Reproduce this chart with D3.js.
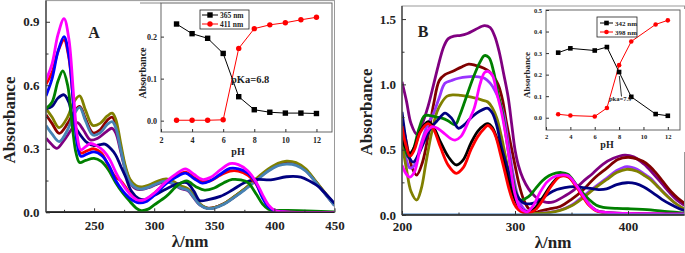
<!DOCTYPE html>
<html><head><meta charset="utf-8">
<script src="https://cdn.jsdelivr.net/npm/d3@7"></script>
<style>
body{margin:0;background:#fff}
svg{display:block}
text{font-family:"Liberation Serif","Times New Roman",serif;font-weight:bold;fill:#222}
</style>
</head><body><svg id="c" width="685" height="253"></svg>
<script>
// ---------- Panel A spectra [wavelength nm, absorbance] ----------
const aMagenta=[[210,.625],[215,.70],[220,.84],[225,.915],[229,.82],[233,.55],[236,.36],[239,.295],[243,.31],[247,.325],[252,.315],[258,.29],[263,.25],[268,.19],[274,.13],[280,.085],[286,.058],[292,.06],[300,.09],[310,.145],[318,.18],[326,.205],[333,.18],[340,.155],[347,.165],[355,.2],[363,.23],[370,.225],[378,.195],[384,.15],[390,.085],[395,.035],[400,.01],[410,.002],[450,0]];
const aRed=[[210,.605],[215,.66],[220,.76],[225,.815],[229,.73],[233,.5],[236,.34],[239,.28],[244,.29],[250,.30],[256,.28],[262,.22],[268,.165],[272,.15],[276,.12],[281,.08],[287,.055],[293,.06],[300,.09],[310,.14],[318,.17],[326,.19],[333,.165],[340,.145],[347,.15],[355,.175],[363,.195],[370,.195],[378,.175],[384,.14],[390,.075],[395,.03],[400,.008],[410,.001],[450,0]];
const aBlue=[[210,.55],[215,.63],[220,.76],[225,.83],[229,.74],[233,.5],[236,.32],[239,.265],[244,.275],[250,.285],[256,.27],[262,.225],[268,.15],[274,.1],[280,.065],[287,.045],[293,.05],[300,.08],[310,.135],[318,.165],[326,.185],[333,.16],[340,.138],[347,.15],[355,.18],[363,.207],[370,.205],[378,.185],[384,.145],[390,.07],[395,.025],[400,.008],[410,.001],[450,0]];
const aGreen=[[210,.49],[215,.52],[220,.62],[224,.668],[228,.6],[232,.4],[235,.28],[238,.235],[243,.245],[250,.255],[256,.24],[262,.2],[268,.14],[274,.09],[280,.05],[285,.02],[289,.008],[295,.015],[300,.035],[310,.075],[320,.13],[327,.148],[335,.12],[342,.105],[350,.115],[358,.14],[365,.155],[372,.153],[378,.14],[385,.085],[390,.04],[395,.015],[400,.01],[420,.008],[450,.002]];
const aNavy=[[210,.49],[215,.5],[220,.54],[225,.555],[229,.52],[233,.42],[238,.37],[244,.33],[250,.315],[255,.32],[259,.322],[264,.3],[268,.27],[272,.22],[276,.17],[281,.1],[287,.065],[292,.06],[300,.08],[310,.11],[320,.135],[327,.14],[333,.1],[338,.055],[345,.06],[355,.075],[365,.105],[375,.14],[385,.155],[397,.153],[410,.168],[422,.166],[430,.145],[437,.12],[443,.085],[450,.042]];
const aOlive=[[210,.49],[215,.45],[221,.40],[228,.45],[233,.52],[238,.55],[243,.48],[249,.41],[255,.42],[261,.455],[265,.468],[268,.44],[272,.33],[276,.22],[280,.155],[285,.125],[290,.12],[296,.13],[302,.145],[310,.158],[316,.145],[322,.125],[328,.112],[333,.08],[338,.04],[344,.02],[350,.022],[358,.04],[366,.072],[375,.11],[385,.16],[395,.205],[403,.232],[410,.242],[418,.235],[426,.205],[434,.15],[441,.1],[450,.035]];
const aMaroon=[[210,.46],[215,.42],[221,.373],[228,.42],[233,.47],[238,.50],[243,.44],[249,.375],[255,.39],[261,.435],[265,.449],[268,.42],[272,.31],[276,.21],[280,.15],[285,.12],[290,.115],[296,.125],[302,.14],[310,.153],[316,.14],[322,.12],[328,.108],[333,.075],[338,.038],[344,.02],[350,.022],[358,.04],[366,.07],[375,.108],[385,.155],[395,.2],[403,.226],[410,.236],[418,.23],[426,.2],[434,.148],[441,.098],[450,.035]];
const aSteel=[[210,.41],[215,.37],[221,.334],[228,.39],[233,.46],[238,.496],[243,.43],[249,.365],[255,.375],[261,.415],[265,.428],[268,.40],[272,.3],[276,.2],[280,.14],[285,.115],[290,.11],[296,.12],[302,.135],[310,.148],[316,.135],[322,.115],[328,.105],[333,.07],[338,.035],[344,.018],[350,.02],[358,.038],[366,.068],[375,.105],[385,.15],[395,.195],[403,.22],[410,.228],[418,.222],[426,.195],[434,.145],[441,.095],[450,.032]];
const aPurple=[[210,.35],[214,.325],[219,.302],[225,.34],[231,.39],[236,.424],[241,.39],[247,.342],[253,.35],[260,.38],[265,.397],[268,.375],[272,.29],[276,.2],[280,.14],[285,.11],[290,.108],[296,.118],[302,.132],[310,.145],[316,.133],[322,.113],[328,.102],[333,.068],[338,.035],[344,.02],[350,.022],[358,.04],[366,.07],[375,.108],[385,.153],[395,.198],[403,.224],[410,.232],[418,.226],[426,.198],[434,.146],[441,.096],[450,.033]];
const aBase=[[210,0],[450,0]];

// ---------- Panel B spectra ----------
const bPurple=[[200,1.02],[204,.87],[208,.70],[213,.62],[218,.70],[223,.83],[228,1.0],[232,1.14],[237,1.29],[241,1.35],[246,1.37],[252,1.375],[258,1.39],[265,1.42],[273,1.45],[278,1.435],[282,1.37],[286,1.25],[290,1.08],[294,.9],[297,.7],[300,.5],[303,.38],[307,.28],[312,.2],[318,.14],[326,.1],[334,.1],[342,.135],[352,.19],[360,.255],[369,.32],[378,.39],[387,.434],[397,.458],[405,.445],[414,.39],[422,.32],[430,.24],[437,.17],[444,.11],[450,.075]];
const bMaroon=[[200,.715],[204,.55],[209,.36],[213,.306],[218,.4],[223,.6],[228,.85],[233,1.03],[238,1.075],[245,1.10],[252,1.13],[259,1.155],[265,1.145],[272,1.125],[277,1.1],[281,1.06],[285,1.0],[289,.88],[292,.73],[296,.55],[300,.38],[304,.22],[308,.11],[312,.05],[318,.02],[322,.03],[330,.045],[340,.065],[350,.12],[360,.19],[370,.28],[381,.357],[391,.425],[400,.442],[408,.43],[416,.396],[424,.33],[431,.255],[438,.18],[444,.13],[450,.09]];
const bViolet=[[200,.63],[204,.42],[207,.36],[211,.38],[216,.52],[222,.68],[228,.78],[233,.9],[238,1.008],[244,1.03],[250,1.047],[258,1.058],[265,1.06],[273,1.047],[278,1.01],[282,.957],[286,.88],[290,.77],[294,.55],[298,.33],[302,.16],[306,.07],[310,.03],[315,.01],[322,.015],[330,.02],[340,.038],[350,.075],[360,.14],[370,.21],[381,.28],[390,.34],[399,.37],[408,.35],[415,.31],[420,.28],[427,.215],[434,.153],[442,.09],[450,.044]];
const bOlive=[[200,.55],[204,.35],[208,.18],[213,.115],[217,.2],[221,.39],[226,.62],[231,.79],[235,.86],[240,.91],[245,.92],[252,.915],[258,.908],[265,.895],[271,.88],[276,.865],[280,.82],[284,.74],[288,.6],[292,.43],[296,.26],[300,.12],[304,.05],[308,.02],[313,.012],[320,.012],[330,.018],[340,.035],[350,.07],[360,.13],[370,.2],[381,.27],[390,.325],[399,.35],[408,.335],[415,.3],[420,.27],[427,.21],[434,.15],[442,.09],[450,.045]];
const bGreen=[[200,.62],[203,.5],[206,.44],[210,.5],[215,.66],[220,.76],[225,.76],[230,.75],[236,.74],[241,.72],[247,.69],[251,.76],[256,.88],[263,1.05],[269,1.17],[273,1.22],[277,1.205],[281,1.1],[285,.93],[289,.78],[293,.55],[297,.33],[301,.17],[305,.115],[312,.14],[318,.2],[324,.26],[330,.3],[336,.32],[341,.325],[347,.31],[354,.235],[360,.17],[366,.115],[372,.075],[378,.059],[390,.05],[400,.048],[420,.04],[435,.025],[450,.015]];
const bNavy=[[200,.79],[203,.6],[206,.45],[210,.405],[215,.47],[220,.57],[225,.66],[232,.73],[238,.78],[244,.74],[250,.664],[255,.69],[260,.735],[266,.78],[271,.805],[276,.817],[280,.78],[284,.68],[288,.52],[292,.4],[296,.28],[300,.18],[304,.12],[308,.09],[313,.085],[318,.095],[324,.125],[330,.165],[337,.195],[344,.21],[352,.217],[360,.21],[367,.203],[374,.195],[381,.2],[390,.232],[399,.247],[407,.24],[414,.215],[422,.17],[430,.12],[438,.08],[445,.05],[450,.035]];
const bMagenta=[[200,.38],[204,.31],[207,.29],[211,.33],[216,.5],[222,.64],[227,.676],[232,.66],[238,.62],[243,.585],[247,.574],[252,.6],[258,.7],[264,.82],[269,1.0],[273,1.09],[276,1.1],[280,1.07],[284,.93],[288,.79],[292,.6],[296,.37],[300,.16],[304,.06],[308,.03],[311,.025],[316,.07],[322,.17],[328,.25],[334,.29],[340,.306],[347,.3],[354,.23],[360,.15],[366,.077],[372,.035],[380,.02],[390,.015],[400,.012],[420,.01],[450,.008]];
const bBlack=[[200,.6],[203,.52],[207,.472],[211,.52],[216,.64],[223,.714],[228,.67],[234,.56],[241,.446],[248,.383],[254,.42],[261,.55],[267,.64],[273,.69],[276,.7],[280,.67],[283,.61],[287,.5],[291,.37],[295,.24],[299,.14],[303,.07],[307,.035],[312,.025],[318,.055],[325,.14],[332,.23],[340,.3],[347,.295],[354,.228],[360,.15],[366,.077],[372,.035],[380,.02],[400,.012],[450,.007]];
const bRed=[[200,.68],[203,.55],[207,.45],[211,.5],[216,.63],[223,.70],[228,.655],[234,.52],[241,.38],[248,.319],[254,.36],[261,.5],[267,.6],[273,.665],[276,.685],[280,.655],[283,.6],[287,.47],[291,.33],[295,.19],[299,.09],[303,.04],[307,.02],[312,.015],[318,.04],[325,.12],[332,.22],[340,.295],[347,.29],[354,.22],[360,.14],[366,.07],[372,.03],[380,.015],[400,.008],[450,.005]];
const bBase=[[200,0],[450,0]];

// ---------- Insets ----------
const pHA=[3,4,5,6,7,8,9,10,11,12];
const abs365=[0.23,0.207,0.196,0.16,0.057,0.026,0.020,0.018,0.018,0.017];
const abs411=[0.001,0.001,0.001,0.002,0.172,0.219,0.228,0.233,0.240,0.246];
const pHB=[3,4,6,7,8,9,11,12];
const abs342=[0.302,0.322,0.312,0.328,0.212,0.097,0.017,0.009];
const abs398=[0.016,0.010,0.006,0.045,0.244,0.354,0.433,0.452];

// ticks
const aXTicks=[250,300,350,400,450], aXMinor=[225,275,325,375,425];
const aYTicks=[0,0.3,0.6,0.9], aYMinor=[0.15,0.45,0.75];
const bXTicks=[200,300,400], bXMinor=[250,350];
const bYTicks=[0,0.5,1.0,1.5], bYMinor=[0.25,0.75,1.25];
const inXTicks=[2,4,6,8,10,12];
const inAYTicks=[0,0.1,0.2];
const inBYTicks=[0,0.1,0.2,0.3,0.4,0.5];

const svg=d3.select("#c");
const defs=svg.append("defs");

function styleAxis(g,fs){
  g.select(".domain").remove();
  g.selectAll("line").attr("stroke","#333").attr("stroke-width",1);
  g.selectAll("text").attr("font-size",fs).attr("fill","#222")
   .attr("font-family","Liberation Serif, serif").attr("font-weight","bold");
}

function mainPanel(o){
  const g=svg.append("g");
  const [x0,x1]=o.x.range(), [y0,y1]=o.y.range();
  defs.append("clipPath").attr("id",o.id).append("rect")
    .attr("x",x0).attr("y",y1).attr("width",x1-x0).attr("height",y0-y1);
  const ln=d3.line().x(d=>o.x(d[0])).y(d=>o.y(d[1])).curve(d3.curveCatmullRom.alpha(0.5));
  const cg=g.append("g").attr("clip-path",`url(#${o.id})`);
  o.series.forEach(s=>{
    cg.append("path").datum(s.d).attr("d",ln).attr("fill","none")
      .attr("stroke",s.c).attr("stroke-width",s.w||2.8).attr("stroke-linejoin","round");
  });
  g.append("rect").attr("x",x0).attr("y",y1).attr("width",x1-x0).attr("height",y0-y1)
    .attr("fill","none").attr("stroke","#999").attr("stroke-width",1);
  g.append("line").attr("x1",x0).attr("x2",x0).attr("y1",y1).attr("y2",y0).attr("stroke","#444").attr("stroke-width",1.4);
  g.append("line").attr("x1",x0).attr("x2",x1).attr("y1",y0).attr("y2",y0).attr("stroke","#222").attr("stroke-width",1.6);
  const xa=g.append("g").attr("transform",`translate(0,${y0})`)
    .call(d3.axisBottom(o.x).tickValues(o.xt).tickSize(-4).tickPadding(o.xpad).tickFormat(d3.format("d")));
  styleAxis(xa,13);
  const xm=g.append("g").attr("transform",`translate(0,${y0})`)
    .call(d3.axisBottom(o.x).tickValues(o.xm).tickSize(-2.5).tickFormat(""));
  styleAxis(xm,0);
  const ya=g.append("g").attr("transform",`translate(${x0},0)`)
    .call(d3.axisLeft(o.y).tickValues(o.yt).tickSize(-4).tickPadding(o.ypad).tickFormat(d3.format(".1f")));
  styleAxis(ya,13);
  const ym=g.append("g").attr("transform",`translate(${x0},0)`)
    .call(d3.axisLeft(o.y).tickValues(o.ym).tickSize(-2.5).tickFormat(""));
  styleAxis(ym,0);
  g.append("text").attr("transform",`translate(${o.ylx},${o.yly}) rotate(-90)`)
    .attr("text-anchor","middle").attr("font-size",17).text("Absorbance");
  g.append("text").attr("x",o.xlx).attr("y",o.xly).attr("text-anchor","middle")
    .attr("font-size",17).text("λ/nm");
  g.append("text").attr("x",o.lx).attr("y",o.ly).attr("text-anchor","middle")
    .attr("font-size",16).text(o.label);
  return g;
}

function inset(o){
  const g=svg.append("g");
  const [x0,x1]=o.x.range(), [y0,y1]=o.y.range();
  g.append("rect").attr("x",o.bg[0]).attr("y",o.bg[1]).attr("width",o.bg[2]).attr("height",o.bg[3]).attr("fill","#fff");
  if(o.topLine) g.append("line").attr("x1",o.topLine[0]).attr("x2",o.topLine[1]).attr("y1",y1).attr("y2",y1).attr("stroke","#888");
  g.append("rect").attr("x",x0).attr("y",y1).attr("width",x1-x0).attr("height",y0-y1)
    .attr("fill","none").attr("stroke","#555").attr("stroke-width",0.9);
  const xa=g.append("g").attr("transform",`translate(0,${y0})`)
    .call(d3.axisBottom(o.x).tickValues(inXTicks).tickSize(-3).tickPadding(o.xpad).tickFormat(d3.format("d")));
  styleAxis(xa,o.tfs);
  const ya=g.append("g").attr("transform",`translate(${x0},0)`)
    .call(d3.axisLeft(o.y).tickValues(o.yt).tickSize(-3).tickPadding(o.ypad).tickFormat(d3.format(".1f")));
  styleAxis(ya,o.tfs);
  g.append("text").attr("x",o.phx).attr("y",o.phy).attr("text-anchor","middle").attr("font-size",10).text("pH");
  g.append("text").attr("transform",`translate(${o.abx},${o.aby}) rotate(-90)`).attr("text-anchor","middle")
    .attr("font-size",o.abfs).text("Absorbance");
  const ln=d3.line().x(d=>o.x(d[0])).y(d=>o.y(d[1]));
  const s1=o.pH.map((p,i)=>[p,o.v1[i]]), s2=o.pH.map((p,i)=>[p,o.v2[i]]);
  g.append("path").datum(s2).attr("d",ln).attr("fill","none").attr("stroke","#f00").attr("stroke-width",1);
  g.append("path").datum(s1).attr("d",ln).attr("fill","none").attr("stroke","#000").attr("stroke-width",1);
  g.selectAll(".c").data(s2).enter().append("circle").attr("cx",d=>o.x(d[0])).attr("cy",d=>o.y(d[1]))
    .attr("r",o.ms/2).attr("fill","#f00");
  g.selectAll(".s").data(s1).enter().append("rect").attr("x",d=>o.x(d[0])-o.ms/2).attr("y",d=>o.y(d[1])-o.ms/2)
    .attr("width",o.ms).attr("height",o.ms).attr("fill","#000");
  const L=o.leg;
  g.append("rect").attr("x",L.x).attr("y",L.y).attr("width",L.w).attr("height",L.h).attr("fill","#fff").attr("stroke","#222").attr("stroke-width",0.8);
  [[o.names[0],"#000","s"],[o.names[1],"#f00","c"]].forEach((e,i)=>{
    const yy=L.y+L.r[i];
    g.append("line").attr("x1",L.lx0).attr("x2",L.lx1).attr("y1",yy).attr("y2",yy).attr("stroke",e[1]).attr("stroke-width",1);
    const mx=(L.lx0+L.lx1)/2;
    if(e[2]==="s") g.append("rect").attr("x",mx-o.ms/2).attr("y",yy-o.ms/2).attr("width",o.ms).attr("height",o.ms).attr("fill",e[1]);
    else g.append("circle").attr("cx",mx).attr("cy",yy).attr("r",o.ms/2).attr("fill",e[1]);
    g.append("text").attr("x",L.tx).attr("y",yy+2.5).attr("font-size",L.fs).text(e[0]);
  });
  return g;
}

// Panel A
const xA=d3.scaleLinear().domain([210,450]).range([46,334.5]);
const yA=d3.scaleLinear().domain([0,1]).range([212.3,0.6]);
mainPanel({id:"clipA",x:xA,y:yA,xt:aXTicks,xm:aXMinor,yt:aYTicks,ym:aYMinor,xpad:8,ypad:6.5,
  ylx:15,yly:120,xlx:190,xly:247,lx:94,ly:38,label:"A",
  series:[{d:aBase,c:"#111",w:2},{d:aPurple,c:"#800080"},{d:aMaroon,c:"#8b0000"},{d:aOlive,c:"#808000"},{d:aSteel,c:"#4682b4"},
    {d:aNavy,c:"#000080"},{d:aGreen,c:"#008000"},{d:aRed,c:"#ff0000"},{d:aBlue,c:"#0000ff"},{d:aMagenta,c:"#ff00ff"}]});

// Panel B
const xB=d3.scaleLinear().domain([200,450]).range([402,684.5]);
const yB=d3.scaleLinear().domain([0,1.6]).range([215,6]);
mainPanel({id:"clipB",x:xB,y:yB,xt:bXTicks,xm:bXMinor,yt:bYTicks,ym:bYMinor,xpad:7,ypad:6,
  ylx:372,yly:112,xlx:553,xly:248,lx:423,ly:37,label:"B",
  series:[{d:bPurple,c:"#800080"},{d:bMaroon,c:"#800000"},{d:bViolet,c:"#9933ff"},{d:bOlive,c:"#808000"},{d:bGreen,c:"#008000"},
    {d:bNavy,c:"#000080"},{d:bBlack,c:"#000"},{d:bRed,c:"#ff0000"},{d:bMagenta,c:"#ff00ff"},{d:bBase,c:"#3f7fbf",w:3.2}]});

// Inset A
const ixA=d3.scaleLinear().domain([2,13]).range([161,332]);
const iyA=d3.scaleLinear().domain([-0.027,0.28]).range([132,3]);
inset({x:ixA,y:iyA,yt:inAYTicks,xpad:5,ypad:4,tfs:8,bg:[139,2,194,156],topLine:[140,161],
  phx:238,phy:155,abx:146,aby:73,abfs:10,pH:pHA,v1:abs365,v2:abs411,ms:5.4,names:["365 nm","411 nm"],
  leg:{x:200,y:10,w:49,h:19,r:[5,14],lx0:202,lx1:218,tx:220,fs:7.5}});
svg.append("text").attr("x",231).attr("y",83).attr("font-size",10.5).text("pKa=6.8");

// Inset B
const ixB=d3.scaleLinear().domain([2,13]).range([546,680]);
const iyB=d3.scaleLinear().domain([-0.057,0.5]).range([130,10]);
inset({x:ixB,y:iyB,yt:inBYTicks,xpad:4,ypad:4,tfs:6.5,bg:[522,9,163,143],
  phx:607,phy:148,abx:530,aby:75,abfs:9,pH:pHB,v1:abs342,v2:abs398,ms:4.6,names:["342 nm","398 nm"],
  leg:{x:597,y:17,w:40,h:20,r:[6,15],lx0:600,lx1:613,tx:615,fs:7}});
svg.append("line").attr("x1",619.3).attr("y1",76).attr("x2",621.5).attr("y2",96.5).attr("stroke","#000").attr("stroke-width",0.8);
svg.append("text").attr("x",609).attr("y",101).attr("font-size",6.5).attr("font-weight","normal").text("pka=7.9");
</script></body></html>
